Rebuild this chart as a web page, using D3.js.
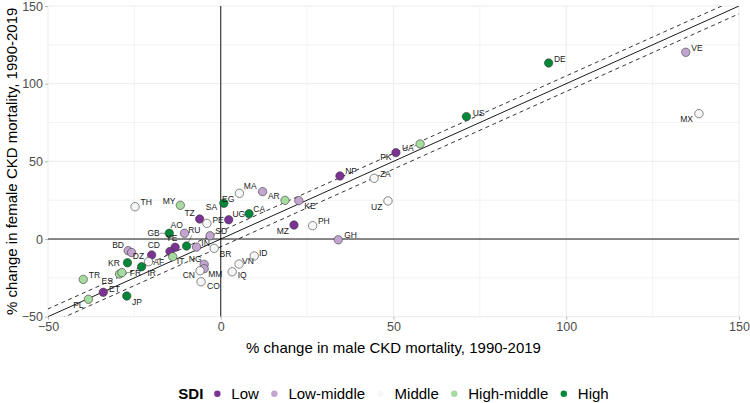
<!DOCTYPE html>
<html>
<head>
<meta charset="utf-8">
<script src="https://cdn.jsdelivr.net/npm/d3@7"></script>
<style>
  html, body { margin: 0; padding: 0; background: #ffffff; }
  svg { display: block; font-family: "Liberation Sans", Arial, Helvetica, sans-serif; }
</style>
</head>
<body>
<svg id="chart" width="750" height="403"></svg>
<script>
// ---------------- data ----------------
const codes = ["DE","VE","MX","US","UA","PK","NP","ZA","AR","KE","UZ","MZ","PH","GH","MA","EG","SA","CA","UG","TZ","PE","MY","TH","GB","AO","RU","SD","IN","YE","AF","CD","DZ","BD","","KR","ES","FR","IR","IT","NG","MM","CN","CO","BR","IQ","VN","ID","TR","ET","PL","JP"];
const maleChange = [94.9,134.6,138.4,71.1,57.7,50.7,34.5,44.4,18.6,22.6,48.4,21.2,26.6,34.0,12.1,5.4,0.9,8.2,2.3,-6.1,-4.0,-11.7,-24.8,-14.9,-10.5,-9.9,-3.1,-7.0,-13.2,-14.7,-20.0,-20.9,-26.8,-25.8,-27.0,-29.3,-28.6,-22.9,-13.9,-4.8,-4.8,-6.0,-5.7,-1.9,3.3,5.3,9.7,-39.8,-34.0,-38.3,-27.2];
const femaleChange = [113.3,120.2,80.7,78.8,61.2,55.6,40.6,39.1,24.9,24.7,24.5,9.0,8.6,-0.5,30.5,29.4,23.0,16.3,12.4,12.9,10.1,21.7,20.8,3.7,3.7,-4.5,2.1,-5.2,-5.3,-8.0,-10.3,-14.6,-7.5,-8.7,-15.3,-22.5,-21.6,-17.8,-11.4,-16.3,-19.1,-20.4,-27.5,-6.0,-21.1,-16.1,-10.9,-26.0,-34.3,-38.8,-36.7];
const sdiGroup = ["High","Low-middle","Middle","High","High-middle","Low","Low","Middle","High-middle","Low-middle","Middle","Low","Middle","Low-middle","Low-middle","Middle","High","High","Low","Low","Middle","High-middle","Middle","High","Low-middle","High","Low-middle","Low-middle","Low","Low","Low","Middle","Low-middle","Low-middle","High","High-middle","High-middle","High","High-middle","Low-middle","Low-middle","Middle","Middle","Middle","Middle","Middle","Middle","High-middle","Low","High-middle","High"];
const sdiLevels = ["Low","Low-middle","Middle","High-middle","High"];
const xTicks = [-50, 0, 50, 100, 150];
const yTicks = [-50, 0, 50, 100, 150];
const gridBreaks = [-50, -25, 0, 25, 50, 75, 100, 125, 150];
const bandOffset = 5;

// ---------------- styling / layout ----------------
const sdiColors = ["#7b3294","#c2a5cf","#f7f7f7","#a6dba0","#008837"];
// label nudges in pixels (label centre relative to point) and whether a leader segment is drawn
const labelNudge = {
  DE:[10,-4], VE:[10,-4], MX:[-11,5], US:[11,-3], UA:[-11,4,1], PK:[-9,4], NP:[10,-4], ZA:[10,-4],
  AR:[-10,-4], KE:[10,5], UZ:[-10,5], MZ:[-10,5], PH:[10,-4], GH:[11,-4], MA:[-11,-5], EG:[-10,5],
  SA:[-11,3], CA:[9,-4], UG:[9,-5], TZ:[-9,-5], PE:[10,-3], MY:[-10,-4], TH:[10,-4], GB:[-14,0,1],
  AO:[-7,-7], RU:[7,-14,1], SD:[10,-4], IN:[8,-4], YE:[-3,-8], AF:[-10,9,1], CD:[2,-9], DZ:[-9,-5],
  BD:[-9,-5], KR:[-12,0], ES:[-11,6], FR:[12,0,1], IR:[9,6], IT:[7,4], NG:[-8,-5], MM:[10,5],
  CN:[-10,4], CO:[11,4], BR:[10,5], IQ:[9,3], VN:[8,-3], ID:[8,-3], TR:[10,-4], ET:[10,-3,1],
  PL:[-9,5], JP:[9,5]
};
const nudgeScale = 1.12;

const W = 750, H = 403;
const panel = { left: 48, right: 739, top: 6, bottom: 316.7 };
const svg = d3.select("#chart");

const x = d3.scaleLinear().domain([-50, 150]).range([panel.left, panel.right]);
const y = d3.scaleLinear().domain([-50, 150]).range([panel.bottom, panel.top]);
const color = d3.scaleOrdinal().domain(sdiLevels).range(sdiColors);

svg.append("defs").append("clipPath").attr("id", "clip")
  .append("rect").attr("x", panel.left).attr("y", panel.top)
  .attr("width", panel.right - panel.left).attr("height", panel.bottom - panel.top);

// grid
const grid = svg.append("g");
grid.selectAll("line.gx").data(gridBreaks).join("line")
  .attr("x1", d => x(d)).attr("x2", d => x(d))
  .attr("y1", panel.top).attr("y2", panel.bottom)
  .attr("stroke", "#ebebeb").attr("stroke-width", d => xTicks.includes(d) ? 1 : 0.6);
grid.selectAll("line.gy").data(gridBreaks).join("line")
  .attr("y1", d => y(d)).attr("y2", d => y(d))
  .attr("x1", panel.left).attr("x2", panel.right)
  .attr("stroke", "#ebebeb").attr("stroke-width", d => yTicks.includes(d) ? 1 : 0.6);

// axes (text + ticks)
const xAxis = d3.axisBottom(x).tickValues(xTicks).tickSize(3).tickPadding(2.5);
const yAxis = d3.axisLeft(y).tickValues(yTicks).tickSize(3).tickPadding(2);
const gx = svg.append("g").attr("transform", `translate(0,${panel.bottom})`).call(xAxis);
const gy = svg.append("g").attr("transform", `translate(${panel.left},0)`).call(yAxis);
[gx, gy].forEach(g => {
  g.select(".domain").remove();
  g.selectAll(".tick line").attr("stroke", "#888").attr("stroke-width", 0.6);
  g.selectAll(".tick text").attr("fill", "#4d4d4d").attr("font-size", 12.5)
    .attr("font-family", "Liberation Sans, Arial, sans-serif");
});

// reference lines
const lines = svg.append("g").attr("clip-path", "url(#clip)");
lines.append("line").attr("x1", x(0)).attr("x2", x(0)).attr("y1", panel.top).attr("y2", panel.bottom)
  .attr("stroke", "#000").attr("stroke-width", 0.9);
lines.append("line").attr("y1", y(0)).attr("y2", y(0)).attr("x1", panel.left).attr("x2", panel.right)
  .attr("stroke", "#000").attr("stroke-width", 0.9);
const diag = d3.line().x(d => x(d[0])).y(d => y(d[1]));
lines.append("path").attr("d", diag([[-50, -50], [150, 150]]))
  .attr("stroke", "#000").attr("stroke-width", 0.9).attr("fill", "none");
[bandOffset, -bandOffset].forEach(o => {
  lines.append("path").attr("d", diag([[-60, -60 + o], [160, 160 + o]]))
    .attr("stroke", "#000").attr("stroke-width", 0.8).attr("fill", "none")
    .attr("stroke-dasharray", "4,3.5");
});

// data rows
const rows = codes.map((c, i) => ({ code: c, mx: maleChange[i], fy: femaleChange[i], sdi: sdiGroup[i] }));
const R = 4.2;

const segLayer = svg.append("g");
const ptLayer = svg.append("g");
const lblLayer = svg.append("g");

ptLayer.selectAll("circle").data(rows).join("circle")
  .attr("cx", d => x(d.mx)).attr("cy", d => y(d.fy)).attr("r", R)
  .attr("fill", d => color(d.sdi)).attr("stroke", "#3a3a3a").attr("stroke-width", 0.6);

const labelled = rows.filter(d => d.code && labelNudge[d.code]);
lblLayer.selectAll("text").data(labelled).join("text")
  .attr("x", d => x(d.mx) + labelNudge[d.code][0] * nudgeScale)
  .attr("y", d => y(d.fy) + labelNudge[d.code][1] * nudgeScale)
  .attr("text-anchor", "middle").attr("dominant-baseline", "central")
  .attr("font-size", 8.5).attr("fill", "#1a1a1a")
  .text(d => d.code)
  .each(function(d) {
    const nd = labelNudge[d.code];
    if (!nd[2]) return;
    const bb = this.getBBox();
    const px = x(d.mx), py = y(d.fy);
    const cx = bb.x + bb.width / 2, cy = bb.y + bb.height / 2;
    const dx = cx - px, dy = cy - py;
    const len = Math.hypot(dx, dy);
    if (len < 1) return;
    const ux = dx / len, uy = dy / len;
    const tx = Math.abs(dx) > 0 ? (bb.width / 2) / Math.abs(dx) : Infinity;
    const ty = Math.abs(dy) > 0 ? (bb.height / 2) / Math.abs(dy) : Infinity;
    const t = Math.min(tx, ty);
    const ex = cx - dx * t, ey = cy - dy * t;
    const sx = px + ux * R, sy = py + uy * R;
    if (Math.hypot(ex - sx, ey - sy) > 1) {
      segLayer.append("line").attr("x1", sx).attr("y1", sy).attr("x2", ex).attr("y2", ey)
        .attr("stroke", "#333").attr("stroke-width", 0.5);
    }
  });

// axis titles
svg.append("text").attr("x", (panel.left + panel.right) / 2).attr("y", 353)
  .attr("text-anchor", "middle").attr("font-size", 15).attr("fill", "#000")
  .text("% change in male CKD mortality, 1990-2019");
svg.append("text")
  .attr("transform", `translate(17,${(panel.top + panel.bottom) / 2}) rotate(-90)`)
  .attr("text-anchor", "middle").attr("font-size", 15).attr("fill", "#000")
  .text("% change in female CKD mortality, 1990-2019");

// legend
const leg = svg.append("g");
const legY = 399;
let cursor = 0;
const title = leg.append("text").attr("x", cursor).attr("y", legY)
  .attr("font-size", 15).attr("font-weight", "bold").attr("fill", "#000").text("SDI");
cursor += title.node().getComputedTextLength() + 14;
sdiLevels.forEach((lv, i) => {
  leg.append("circle").attr("cx", cursor).attr("cy", legY - 5.2).attr("r", 3.2)
    .attr("fill", color(lv));
  cursor += 14;
  const t = leg.append("text").attr("x", cursor).attr("y", legY)
    .attr("font-size", 15).attr("fill", "#000").text(lv);
  cursor += t.node().getComputedTextLength() + 15.5;
});
const legW = cursor - 15.5;
leg.attr("transform", `translate(${(panel.left + panel.right) / 2 - legW / 2},0)`);
</script>
</body>
</html>
